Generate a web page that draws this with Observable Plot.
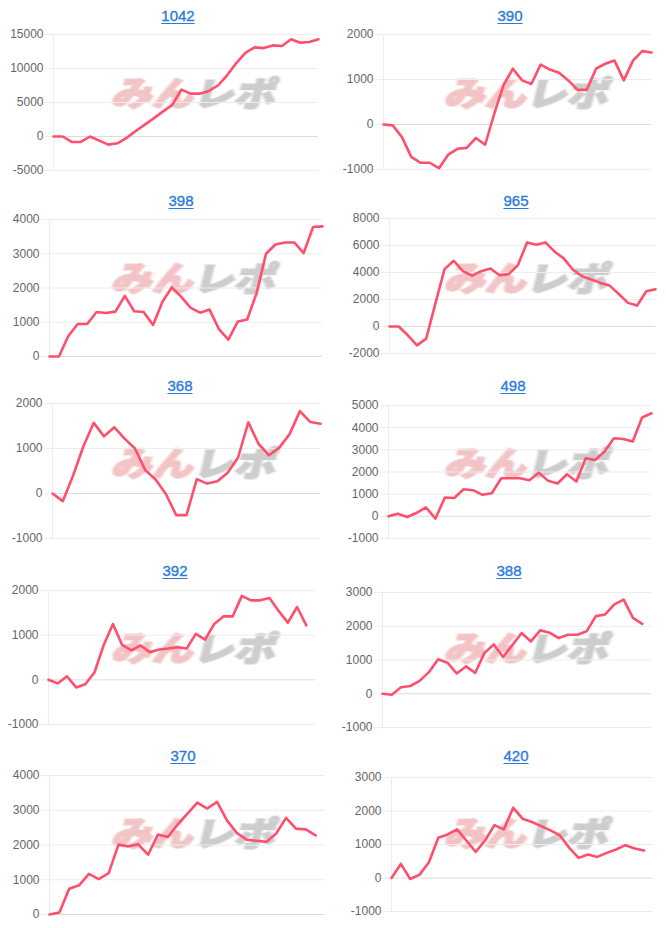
<!DOCTYPE html>
<html><head><meta charset="utf-8">
<script src="https://cdn.jsdelivr.net/npm/d3@7"></script>
<script src="https://cdn.jsdelivr.net/npm/@observablehq/plot@0.6"></script>
<style>
body{margin:0;background:#fff;}
#root{position:relative;width:666px;height:928px;overflow:hidden;font-family:"Liberation Sans",Arial,sans-serif;}
.panel{position:absolute;width:333px;height:185px;}
.title{position:absolute;top:7px;width:120px;text-align:center;font-size:15px;line-height:17px;font-weight:normal;-webkit-text-stroke:0.35px #2a7ad8;color:#2a7ad8;text-decoration:underline;text-underline-offset:2px;}
.wm{position:absolute;left:196px;top:92px;font-family:"Noto Sans CJK JP",sans-serif;font-weight:900;font-size:41px;line-height:1;white-space:nowrap;transform:translate(-50%,-50%) skewX(-14deg) scaleY(0.8);filter:blur(0.9px);letter-spacing:0px;}
.wm .a{color:#f2c4c5;-webkit-text-stroke:2.2px #f2c4c5;}
.wm .b{color:#cdcdcd;-webkit-text-stroke:2.2px #cdcdcd;}
.panel svg{position:absolute;left:0;top:0;}
</style>
</head><body>
<div id="root"></div>
<script>
const titles = ["1042", "390", "398", "965", "368", "498", "392", "388", "370", "420"];

const values1042 = [0, 0, -800, -800, 0, -600, -1200, -1000, -200, 800, 1750, 2700, 3700, 4650, 6900, 6300, 6300, 6700, 7500, 9000, 10800, 12300, 13100, 13000, 13400, 13300, 14300, 13800, 13900, 14300];
const values390 = [0, -20, -280, -720, -850, -850, -970, -670, -540, -520, -300, -450, 250, 880, 1240, 980, 900, 1330, 1220, 1150, 980, 770, 770, 1240, 1350, 1420, 980, 1420, 1630, 1600];
const values398 = [0, 0, 600, 950, 950, 1300, 1270, 1310, 1770, 1320, 1300, 920, 1600, 2020, 1740, 1420, 1280, 1370, 800, 490, 1020, 1080, 1850, 3000, 3270, 3330, 3330, 3020, 3780, 3800];
const values965 = [0, 0, -650, -1400, -900, 1700, 4250, 4870, 4100, 3770, 4100, 4300, 3800, 3880, 4550, 6230, 6050, 6230, 5540, 5050, 4200, 3720, 3480, 3230, 3030, 2410, 1750, 1550, 2610, 2760];
const values368 = [0, -170, 400, 1050, 1570, 1270, 1470, 1220, 1000, 520, 310, -10, -480, -480, 320, 220, 270, 460, 800, 1580, 1100, 850, 1020, 1320, 1830, 1590, 1550];
const values498 = [0, 120, -30, 160, 400, -100, 850, 830, 1220, 1180, 970, 1040, 1720, 1720, 1720, 1630, 1970, 1600, 1480, 1900, 1570, 2620, 2540, 2920, 3520, 3490, 3380, 4460, 4650];
const values392 = [0, -80, 80, -170, -100, 170, 780, 1250, 780, 660, 770, 620, 680, 700, 730, 700, 1030, 900, 1250, 1420, 1420, 1880, 1780, 1780, 1830, 1540, 1280, 1630, 1220];
const values388 = [0, -30, 190, 230, 380, 640, 1020, 920, 600, 810, 620, 1210, 1460, 1090, 1440, 1800, 1550, 1880, 1810, 1650, 1750, 1750, 1850, 2300, 2350, 2650, 2790, 2250, 2070];
const values370 = [0, 60, 740, 840, 1170, 1020, 1190, 2010, 1960, 2020, 1720, 2300, 2230, 2590, 2900, 3220, 3050, 3240, 2710, 2350, 2150, 2120, 2090, 2330, 2780, 2470, 2450, 2280];
const values420 = [0, 420, -30, 100, 470, 1200, 1300, 1450, 1120, 780, 1120, 1580, 1450, 2100, 1770, 1670, 1550, 1420, 1270, 900, 600, 700, 630, 750, 850, 980, 880, 820];

// number of x-axis slots (days) per chart
const slotCounts = [30, 30, 30, 30, 27, 29, 30, 30, 29, 29];

const ticks1042 = [-5000, 0, 5000, 10000, 15000];
const ticks390 = [-1000, 0, 1000, 2000];
const ticks398 = [0, 1000, 2000, 3000, 4000];
const ticks965 = [-2000, 0, 2000, 4000, 6000, 8000];
const ticks368 = [-1000, 0, 1000, 2000];
const ticks498 = [-1000, 0, 1000, 2000, 3000, 4000, 5000];
const ticks392 = [-1000, 0, 1000, 2000];
const ticks388 = [-1000, 0, 1000, 2000, 3000];
const ticks370 = [0, 1000, 2000, 3000, 4000];
const ticks420 = [-1000, 0, 1000, 2000, 3000];

const series = [values1042, values390, values398, values965, values368, values498, values392, values388, values370, values420];
const tickSets = [ticks1042, ticks390, ticks398, ticks965, ticks368, ticks498, ticks392, ticks388, ticks370, ticks420];

// layout (pixels)
const layout = [
  {col:0,row:0,L:53,R:15,T:34,B:15,tx:178},
  {col:1,row:0,L:50,R:15,T:34,B:16,tx:177},
  {col:0,row:1,L:49,R:11,T:34,B:14,tx:181},
  {col:1,row:1,L:56,R:11,T:33,B:17,tx:183},
  {col:0,row:2,L:52,R:13,T:33,B:17,tx:180},
  {col:1,row:2,L:55,R:15,T:35,B:17,tx:180},
  {col:0,row:3,L:48,R:18,T:35,B:16,tx:175},
  {col:1,row:3,L:49,R:15,T:37,B:13,tx:176},
  {col:0,row:4,L:49,R:8,T:35,B:11,tx:183},
  {col:1,row:4,L:58,R:13,T:37,B:14,tx:183}
];

const root = document.getElementById("root");
const gridColor = "#ececec";
const zeroColor = "#dcdcdc";
const lineColor = "#ff4f6c";

titles.forEach((t, k) => {
  const lay = layout[k];
  const vals = series[k];
  const ticks = tickSets[k];
  const panel = document.createElement("div");
  panel.className = "panel";
  panel.style.left = (lay.col * 333) + "px";
  panel.style.top = (lay.row * 185) + "px";

  const wm = document.createElement("div");
  wm.className = "wm";
  wm.innerHTML = '<span class="a">みん</span><span class="b">レポ</span>';
  panel.appendChild(wm);

  const title = document.createElement("div");
  title.className = "title";
  title.style.left = (lay.tx - 60) + "px";
  title.textContent = t;
  panel.appendChild(title);

  const chart = Plot.plot({
    width: 333, height: 185,
    marginLeft: lay.L, marginRight: lay.R, marginTop: lay.T, marginBottom: lay.B,
    style: {background: "transparent", overflow: "visible", fontFamily: "Liberation Sans, Arial, sans-serif"},
    x: {domain: [0, slotCounts[k] - 1], axis: null},
    y: {domain: [ticks[0], ticks[ticks.length - 1]], axis: null},
    marks: [
      Plot.ruleY(ticks.filter(v => v !== 0), {stroke: gridColor}),
      Plot.ruleY(ticks.filter(v => v === 0), {stroke: zeroColor}),
      Plot.ruleX([0], {stroke: gridColor}),
      Plot.axisY({ticks, tickSize: 8, tickPadding: 2, stroke: gridColor, fill: "#666", fontSize: 12, tickFormat: d => String(d), label: null}),
      Plot.line(vals, {x: (d, i) => i, y: d => d, stroke: lineColor, strokeWidth: 2.6, curve: "linear"})
    ]
  });
  panel.appendChild(chart);
  root.appendChild(panel);
});
</script>
</body></html>
